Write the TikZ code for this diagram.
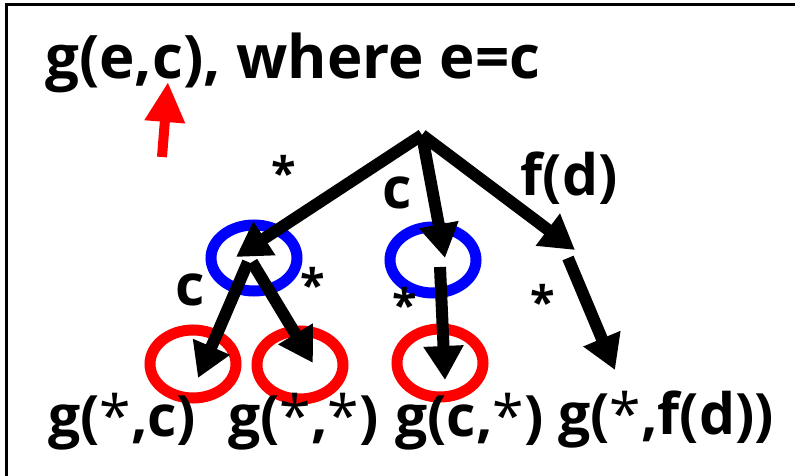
\documentclass[tikz,border=0pt]{standalone}
\usepackage{fontspec}
\setmainfont{Open Sans}
\usetikzlibrary{arrows.meta,shapes.geometric}
\newcommand{\lstar}{{\mdseries *}}
\begin{document}
\begin{tikzpicture}[x=1pt,y=-1pt,
  lab/.style={inner sep=0pt,font=\fontsize{57}{62}\selectfont\bfseries},
  star/.style={inner sep=0pt,font=\fontsize{45}{50}\selectfont\bfseries},
  blueell/.style={ellipse,draw=blue,line width=11pt,minimum width=86pt,minimum height=66pt,inner sep=0pt},
  redell/.style={ellipse,draw=red,line width=11pt,minimum width=86pt,minimum height=68pt,inner sep=0pt},
  arr/.style={line width=12pt,-{Triangle[length=34pt,width=38pt]}},
  redarr/.style={red,line width=10pt,-{Triangle[length=40pt,width=38pt]}}]
\useasboundingbox (0,0) rectangle (795,476);
\fill[white] (0,0) rectangle (795,476);
\coordinate (fl) at (6,476);
\coordinate (fc) at (6,5);
\coordinate (fr) at (795,5);
\draw[line width=3pt] (fl) -- (fc) -- (fr);
% title
\node[lab,anchor=base west,font=\fontsize{60}{66}\selectfont\bfseries] (title) at (45,79) {g(e,c), where e=c};
% ellipses
\node[blueell] (b1) at (254,258) {};
\node[blueell] (b2) at (433,260) {};
\node[redell] (r1) at (193,364) {};
\node[redell] (r2) at (300,365) {};
\node[redell] (r3) at (440,363) {};
% coordinates
\coordinate (root) at (422,135);
\coordinate (t1) at (236,257);
\coordinate (t2) at (445,258);
\coordinate (t3) at (575,250);
\coordinate (s1) at (248,262);
\coordinate (s2) at (252,262);
\coordinate (t4) at (198,378);
\coordinate (t5) at (313,363);
\coordinate (s3) at (440,267);
\coordinate (t6) at (445,380);
\coordinate (s4) at (568,258);
\coordinate (t7) at (615,370);
\coordinate (rs) at (162,157);
\coordinate (rt) at (168,82);
% arrows
\draw[arr] (root) -- (t1);
\draw[arr] (root) -- (t2);
\draw[arr] (root) -- (t3);
\draw[arr] (s1) -- (t4);
\draw[arr] (s2) -- (t5);
\draw[arr] (s3) -- (t6);
\draw[arr] (s4) -- (t7);
\draw[redarr] (rs) -- (rt);
% edge labels
\node[star] (a1) at (284,172) {*};
\node[star] (a2) at (313,284) {*};
\node[star] (a3) at (405,304) {*};
\node[star] (a4) at (543,301) {*};
\node[lab] (c1) at (397,193) {c};
\node[lab] (c2) at (190,290) {c};
\node[lab] (fd) at (569,178) {f(d)};
% leaf labels
\node[lab,anchor=base west] (l1) at (48,436) {g(\lstar,c)};
\node[lab,anchor=base west] (l2) at (228,436) {g(\lstar,\lstar)};
\node[lab,anchor=base west] (l3) at (395,436) {g(c,\lstar)};
\node[lab,anchor=base west] (l4) at (558,434) {g(\lstar,f(d))};
\end{tikzpicture}
\end{document}
